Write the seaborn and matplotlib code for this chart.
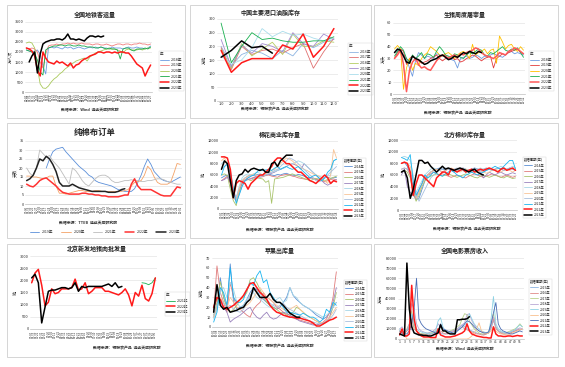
import numpy as np
import pandas as pd
import matplotlib
matplotlib.use("Agg")
import matplotlib.pyplot as plt
from matplotlib.patches import Rectangle
import seaborn as sns

W, H = 565, 367
nan = np.nan

# ---------------- data ----------------
# 1 全国地铁客运量 (万人次)
subway_years = ["2018年", "2019年", "2020年", "2021年", "2022年", "2023年"]
subway_2018 = [2100, 2050, 2000, 2050, 2100, 1900, 1300, 900, 2200, 2250, 2200, 2250, 2200, 2150, 2250, 2200,
               2250, 2150, 2200, 2250, 2200, 2150, 2200, 2250, 2200, 2250, 2200, 2250, 2200, 2200, 2150, 2250,
               2200, 2200, 2200, 2150, 2200, 2250, 2200, 2200, 2250, 2200, 2200, 2150, 2200, 2300]
subway_2019 = [2200, 2150, 2200, 2150, 2000, 1500, 1200, 1900, 2300, 2350, 2350, 2400, 2350, 2400, 2400, 2450,
               2400, 2450, 2400, 2400, 2450, 2400, 2400, 2400, 2350, 2400, 2400, 2350, 2350, 2400, 2350, 2300,
               2350, 2400, 2400, 2350, 2400, 2400, 2350, 2400, 2400, 2450, 2400, 2400, 2350, 2400]
subway_2020 = [2450, 2500, 2450, 2200, 1200, 400, 200, 180, 300, 500, 650, 750, 900, 1000, 1150, 1250,
               1350, 1450, 1550, 1600, 1650, 1700, 1550, 1750, 1850, 1950, 2000, 2050, 2100, 2150, 2150, 2150,
               2150, 2100, 2050, 1950, 2100, 2150, 2100, 2100, 2100, 2150, 2100, 2150, 2200, 2200]
subway_2021 = [2100, 2050, 2000, 1900, 1600, 1000, 850, 2100, 2200, 2250, 2300, 2300, 2350, 2350, 2300, 2350,
               2350, 2300, 2300, 2350, 2300, 2300, 2250, 2250, 2250, 2200, 2200, 2250, 2200, 2150, 2200, 2150,
               2150, 2100, 1650, 2150, 2200, 2200, 2100, 2050, 2150, 2150, 2150, 2200, 2150, 2250]
subway_2022 = [2200, 2150, 2050, 1800, 1100, 800, 2000, 1700, 1500, 1450, 1400, 1550, 1450, 1500, 1400, 1300,
               1450, 1200, 1350, 1400, 1550, 1650, 1700, 1800, 1850, 1900, 2000, 2000, 1950, 2000, 2000, 1950,
               2000, 1950, 2000, 2000, 1950, 1950, 1800, 1600, 1400, 1300, 1200, 800, 1100, 1350]
subway_2023 = [nan, 1500, 1800, 2000, 950, 1900, 2400, 2500, 2550, 2600, 2600, 2650, 2650, 2600, 2700, 2900,
               2650, 2650, 2600, 2650, 2600, 2550, 2700, 2800, 2800, 2750, 2800, 2750, 2800]
subway_labels = list(pd.date_range("2023-01-01", periods=46, freq="8D").strftime("%m-%d"))

# 2 中国主要港口油脂库存 (万吨), monthly
port_years = ["2016年", "2017年", "2018年", "2019年", "2020年", "2021年", "2022年", "2023年"]
port_months = [1.0, 2.0, 3.0, 4.0, 5.0, 6.0, 7.0, 8.0, 9.0, 10.0, 11.0, 12.0]
port_2016 = [200, 130, 170, 185, 175, 155, 185, 165, 210, 195, 215, 225]
port_2017 = [195, 115, 200, 170, 185, 190, 175, 195, 210, 120, 180, 230]
port_2018 = [190, 120, 210, 165, 190, 215, 170, 245, 200, 200, 220, 215]
port_2019 = [225, 125, 205, 175, 210, 200, 180, 250, 210, 200, 245, 225]
port_2020 = [165, 135, 150, 195, 265, 235, 255, 240, 245, 230, 220, 230]
port_2021 = [285, 140, 200, 250, 225, 230, 220, 215, 215, 220, 220, 235]
port_2022 = [185, 105, 140, 155, 155, 155, 205, 190, 245, 160, 200, 265]
port_2023 = [160, 185, 220, 195, 200, 175]

# 3 生猪周度屠宰量 (万头)
hog_years = ["2018年", "2019年", "2020年", "2021年", "2022年", "2023年"]
hog_2018 = [35, 37, 36, 33, 30, 22, 15, 28, 35, 33, 30, 32, 31, 30, 34, 33, 32, 33, 30, 29, 28, 22,
            30, 31, 32, 30, 31, 33, 32, 30, 32, 31, 33, 34, 33, 32, 31, 33, 35, 36, 34, 35, 34, 33]
hog_2019 = [30, 35, 38, 36, 25, 30, 32, 30, 28, 26, 27, 28, 30, 31, 33, 30, 28, 30, 31, 32, 29, 30,
            27, 28, 30, 31, 33, 32, 30, 28, 30, 31, 32, 22, 30, 32, 34, 33, 35, 36, 37, 38, 35, 34]
hog_2020 = [38, 41, 38, 4, 22, 30, 20, 26, 24, 30, 33, 35, 40, 38, 36, 33, 32, 34, 35, 33, 30, 33,
            35, 36, 34, 30, 42, 33, 35, 36, 38, 34, 37, 38, 26, 49, 44, 38, 41, 42, 38, 36, 40, 37]
hog_2021 = [32, 36, 40, 37, 30, 27, 33, 30, 32, 35, 30, 34, 33, 31, 36, 40, 37, 33, 32, 30, 34, 33,
            31, 30, 33, 35, 34, 36, 38, 37, 33, 32, 35, 34, 36, 38, 40, 37, 36, 38, 37, 39, 35, 31]
hog_2022 = [30, 33, 37, 25, 2, 20, 27, 30, 25, 22, 23, 21, 20, 24, 28, 31, 33, 32, 30, 32, 33, 31,
            34, 33, 35, 36, 37, 39, 38, 35, 33, 32, 31, 30, 32, 35, 34, 33, 36, 37, 39, 38, 36, 34]
hog_2023 = [35, 38, 37, 32, 27, 26, 32, 30, 29, 27, 25, 26, 28, 29, 30, 32, 33, 31, 29, 30, 32, 31,
            33, 35, 34, 36, 35, 34, 36, 35]
hog_labels = list(pd.date_range("2023-01-02", periods=44, freq="8D").strftime("%m-%d"))

# 4 纯棉布订单 (天)
cloth_years = ["2019年", "2020年", "2021年", "2022年", "2023年"]
cloth_2019 = [nan, nan, nan, nan, nan, nan, 20, 25, 29, 30.5, 31, 31.5, 29, 27, 25, 23, 21, 19.5, 18, 16,
              15, 13, 12, 11.5, 11, 10.5, 10, 9, 8, 7.5, 7, 7, 7, 8.5, 12, 16, 21, 25, 22, 18,
              16, 14, 13, 12.5, 12, 13, 14, 15]
cloth_2020 = [15.5, 15.5, 15, 15, 14.5, 14, 14.5, 15.5, 15.5, 10, 6, 6, 5.5, 6, 6.5, 7, 7.5, 7.5, 7, 7,
              7, 7.5, 7.5, 7, 7, 7, 7, 7, 7, 7, 7.5, 8, 10, 12, 12.5, 13, 16, 21, 19, 15,
              12, 11, 11, 11, 12, 17, 22.5, 22]
cloth_2021 = [20, 17, 15.5, 20, 30, 28, 26, 27, 24, 22, 20, 17, 14, 11, 20, 18.5, 16, 13, 11, 10,
              12, 14, 15.5, 16, 16, 15, 13, 12, 12, 12.5, 13, 13, 13.5, 13, 13, 12.5, 12.5, 13, 13, 13.5,
              14, 14, 13.5, 12.5, 12, 11.5, 11, 11]
cloth_2022 = [11, 10, 9.5, 11, 13, 14, 14.5, 13, 11.5, 10, 8, 6.5, 6, 5.5, 5.5, 5.5, 5.5, 6, 6, 5.5,
              5.5, 5, 5, 4.5, 4.5, 4, 4, 4, 4, 4.5, 5, 5, 11, 14, 10, 8, 8, 8, 8, 7,
              6, 5, 4.5, 4.5, 4.5, 7, 9.5, 9]
cloth_2023 = [13, 14, 16, 20, 25, 24, 26.5, 25, 22, 18, 12, 10, 10, 10, 11, 10, 9, 8.5, 8, 7.5,
              7, 7, 7, 7, 7, 6.5, 6.5, 6.5, 7, 8, 8.5]
cloth_labels = list(pd.date_range("2023-01-06", periods=48, freq="7D").strftime("%m-%d"))

# 5 棉花商业库存 / 6 北方棉纱库存 / 8 苹果出库量 share year list
multi_years = ["2014年", "2015年", "2016年", "2017年", "2018年", "2019年", "2020年", "2021年", "2022年", "2023年"]

stock_2014 = [5500, 5800, 6000, 5000, 2500, 1800, 3500, 5000, 5500, 5800, 6000, 5900, 6100, 6000, 5800, 6000, 6200, 6000, 5900, 6100,
              6000, 6200, 6300, 6100, 6000, 5900, 6100, 6000, 5800, 5500, 5600, 5400, 5200, 5000, 5300, 5500, 5600, 5400, 5500, 5600]
stock_2015 = [5000, 5400, 5800, 4500, 2000, 1500, 3000, 4800, 5200, 5500, 5400, 5600, 5800, 5600, 5700, 5900, 6000, 5800, 5700, 5600,
              5900, 6000, 6100, 6000, 5800, 5700, 5500, 5400, 5300, 5200, 5400, 5500, 5300, 5100, 5000, 4800, 5000, 5200, 5300, 5100]
stock_2016 = [6000, 6200, 5900, 3500, 1500, 600, 3000, 4500, 5000, 5200, 5000, 5300, 5500, 5400, 5300, 4700, 5000, 1000, 5300, 5400,
              5500, 5600, 5800, 6000, 6200, 6000, 5800, 5600, 5400, 5200, 5000, 5200, 5400, 5300, 5100, 5000, 5200, 5400, 5600, 5800]
stock_2017 = [5000, 5200, 5600, 4800, 3000, 2000, 3500, 4500, 5000, 5200, 5300, 5500, 5700, 5800, 6000, 6200, 6100, 6300, 6500, 6800,
              7000, 7200, 7500, 7800, 8000, 7800, 7500, 7000, 8000, 7500, 7000, 6500, 6000, 5500, 5000, 4500, 4200, 4500, 5000, 5200]
stock_2018 = [8000, 8500, 8200, 6000, 3000, 2000, 4000, 5500, 6000, 6200, 6000, 6200, 6500, 6300, 6000, 6200, 6400, 6500, 6600, 6800,
              7000, 7200, 7500, 7800, 8000, 8200, 8500, 8300, 8000, 7500, 7000, 6500, 6000, 5800, 5600, 5500, 5800, 6000, 8500, 8800]
stock_2019 = [8500, 9000, 8000, 5000, 2500, 1500, 3500, 5000, 5500, 5800, 6000, 6200, 6000, 5800, 6000, 6200, 6500, 6800, 7000, 7500,
              8000, 8500, 9000, 8800, 8500, 8000, 7500, 7200, 7000, 6800, 6500, 6200, 6000, 5800, 5500, 5000, 4500, 6000, 10500, 9000]
stock_2020 = [7000, 7500, 7800, 7000, 4000, 1500, 2500, 4000, 5000, 5500, 5800, 6000, 5800, 5600, 5800, 6000, 6200, 6500, 6800, 7000,
              7500, 8000, 8500, 9000, 8800, 8500, 8000, 7500, 7000, 6500, 6000, 5500, 5000, 4800, 5000, 5500, 6000, 6500, 7000, 7500]
stock_2021 = [6000, 7500, 8000, 6500, 3500, 1000, 2500, 4000, 5000, 5500, 5800, 6000, 6500, 7000, 6800, 6900, 7000, 6800, 7200, 7500,
              7000, 7300, 7500, 7200, 7000, 7200, 7500, 7000, 6500, 6000, 5500, 5800, 6000, 5500, 5000, 5500, 6500, 7000, 8500, 8800]
stock_2022 = [9200, 9200, 9000, 7000, 2000, 4500, 5000, 4800, 4500, 3500, 4500, 5000, 5500, 6000, 6000, 6500, 7000, 7500, 8500, 9000,
              9000, 8500, 8000, 8000, 7500, 7000, 6500, 6500, 6000, 5500, 5000, 4800, 4500, 5000, 5500, 6000, 5500, 4500, 5000, 4800]
stock_2023 = [7000, 8500, 8000, 5000, 2000, 5000, 6000, 6200, 7000, 6500, 7000, 7200, 7000, 6800, 7000, 6500, 6500, 8000, 8300, 7500,
              8500, 9000, 9500, 9500, 9500]
stock_labels = list(pd.date_range("2023-01-01", periods=40, freq="9D").strftime("%m-%d"))

yarn_2014 = [8000, 8200, 7500, 6000, 4000, 1800, 2000, 3500, 5000, 6000, 6500, 6800, 7000, 7200, 7000, 6800, 7000, 6800, 6500, 6800,
             7000, 6800, 6500, 6800, 7000, 7200, 7000, 6800, 6500, 6800, 7000, 6800, 7000, 7200, 7000, 6800, 7000, 7200, 7000, 6800]
yarn_2015 = [7000, 7200, 7000, 6000, 3000, 2000, 3000, 4500, 5500, 6000, 6200, 6500, 6300, 6000, 6200, 6000, 5800, 5600, 5800, 6000,
             5800, 5600, 5500, 5800, 6000, 6200, 6000, 5800, 5600, 5800, 6000, 6200, 6000, 5800, 5600, 5800, 6000, 5800, 5600, 5800]
yarn_2016 = [6500, 6800, 6500, 5500, 3000, 1500, 2500, 4000, 5000, 5500, 5800, 6000, 6200, 6000, 5800, 6000, 6200, 6000, 5800, 5600,
             5800, 6000, 6200, 6000, 5800, 5600, 5500, 5800, 6000, 5800, 5600, 5800, 6000, 5800, 5600, 5500, 5800, 5600, 5400, 5500]
yarn_2017 = [6000, 7000, 4000, 3000, 2500, 2000, 3500, 4500, 5500, 6000, 6500, 6800, 7000, 6800, 6500, 6800, 7000, 6800, 6500, 6800,
             7000, 7200, 7000, 6800, 6500, 6800, 7000, 6500, 5500, 6000, 6500, 6200, 6000, 6300, 6500, 6200, 6000, 6200, 6400, 6200]
yarn_2018 = [9000, 9200, 9000, 8500, 6000, 3000, 4000, 5000, 6000, 6500, 7000, 7200, 7000, 6800, 7000, 7200, 7000, 6800, 6500, 6800,
             7000, 7200, 7000, 6800, 6500, 6800, 7000, 7200, 7000, 7200, 7000, 6800, 7000, 7200, 7500, 7200, 7000, 7200, 7500, 7200]
yarn_2019 = [8000, 8200, 8000, 7500, 5000, 2000, 3000, 4500, 5500, 6000, 6500, 6800, 7000, 6800, 6500, 6800, 7000, 7200, 7000, 6800,
             6500, 6800, 7000, 6800, 6500, 6300, 6500, 6800, 6500, 6300, 6500, 6800, 7000, 6800, 6500, 6800, 7000, 6800, 6500, 6800]
yarn_2020 = [7000, 7200, 7000, 6500, 5000, 3000, 1500, 2500, 3500, 4500, 5500, 6000, 6500, 6800, 7000, 7200, 7000, 6800, 7000, 7200,
             7000, 6800, 6500, 6800, 7000, 7200, 7000, 6800, 7000, 7200, 7000, 6800, 7000, 7200, 7000, 6800, 7000, 7200, 7000, 6800]
yarn_2021 = [9000, 8800, 8500, 9500, 5000, 2500, 3500, 4500, 6000, 5500, 6000, 6500, 6200, 6000, 5800, 6200, 6500, 6800, 6500, 6000,
             5800, 5500, 6000, 6200, 6500, 6200, 6000, 6300, 6500, 6800, 7000, 7200, 7500, 7200, 7000, 7500, 8000, 8500, 8500, 7000]
yarn_2022 = [8000, 8200, 8000, 6500, 2500, 4500, 6000, 6000, 5500, 5000, 4500, 4000, 5500, 6000, 6500, 6500, 6000, 7000, 6800, 6500,
             6800, 7000, 6500, 6800, 7000, 6500, 6800, 7000, 6800, 7000, 7200, 7000, 6800, 6500, 7000, 7200, 6800, 7000, 7200, 6800]
yarn_2023 = [6500, 6800, 5500, 2000, 3500, 6000, 8500, 8500, 8000, 8200, 7500, 7000, 6500, 7000, 7500, 7000, 7200, 7000, 6800, 7000,
             7200, 7000, 6800, 6500, 6800, 7000, 6500, 6200, 6000]
yarn_labels = list(pd.date_range("2023-01-03", periods=40, freq="9D").strftime("%m-%d"))

# 7 北京新发地猪肉批发量 (吨)
bj_years = ["2021年", "2022年", "2023年"]
bj_2021 = [nan] * 33 + [1900, 1880, 1820, 1900, 2100]
bj_2022 = [1900, 2300, 2450, 1800, 950, 1100, 1650, 1450, 1500, 1650, 1650, 1650, 1700, 2050, 1600, 1650, 1900, 1450, 1550,
           1700, 1700, 1700, 1550, 1550, 1500, 1450, 1400, 1500, 1650, 1400, 950, 1500, 1350, 1800, 1250, 1150, 1450, 2100]
bj_2023 = [2100, 2250, 1900, 250, 900, 1550, 1600, 1600, 1650, 1700, 1700, 1650, 1700, 1900, 1550, 1750, 1700, 1750, 1750,
           1750, 1750, 1750, 1800, 1850, 1750, 1900, 1700, 1750]
bj_labels = list(pd.date_range("2023-01-01", periods=38, freq="10D").strftime("%m-%d"))

# 8 苹果出库量 (万吨)
apple_2014 = [10, 20, 50, 30, 20, 64, 25, 18, 20, 22, 28, 35, 40, 38, 30, 28, 25, 22, 20, 18, 20, 25, 30, 40, 32, 28, 25, 22, 20, 18, 15, 12, 10, 8, 10, 15, 20, 25]
apple_2015 = [15, 62, 35, 25, 15, 45, 30, 20, 18, 15, 12, 10, 18, 22, 25, 35, 30, 28, 25, 20, 18, 15, 12, 10, 9, 8, 7, 6, 5, 4, 3, 2, 3, 5, 8, 15, 30, 56]
apple_2016 = [12, 25, 46, 30, 20, 15, 18, 22, 28, 30, 35, 48, 50, 45, 38, 30, 25, 22, 20, 18, 15, 14, 13, 12, 15, 20, 18, 15, 12, 10, 8, 6, 4, 3, 5, 10, 20, 35]
apple_2017 = [18, 30, 25, 20, 15, 5, 8, 10, 12, 15, 18, 20, 14, 10, 8, 12, 15, 10, 8, 9, 12, 15, 14, 12, 10, 8, 6, 5, 4, 3, 2, 2, 3, 4, 6, 10, 25, 40]
apple_2018 = [8, 18, 35, 40, 30, 45, 38, 25, 20, 22, 28, 32, 35, 30, 28, 25, 22, 20, 22, 28, 30, 25, 27, 40, 32, 30, 25, 22, 20, 18, 16, 14, 12, 10, 12, 15, 20, 25]
apple_2019 = [10, 20, 30, 25, 20, 30, 25, 20, 18, 20, 22, 25, 30, 35, 40, 35, 30, 28, 25, 22, 20, 18, 16, 18, 20, 22, 18, 15, 12, 10, 8, 6, 5, 4, 6, 10, 15, 20]
apple_2020 = [12, 22, 28, 24, 20, 22, 18, 16, 15, 18, 25, 32, 36, 40, 33, 30, 28, 24, 22, 20, 22, 24, 20, 18, 16, 14, 12, 10, 8, 6, 5, 4, 3, 4, 6, 8, 12, 18]
apple_2021 = [5, 15, 40, 35, 22, 60, 30, 25, 25, 28, 38, 45, 42, 52, 57, 45, 48, 35, 30, 25, 25, 20, 15, 15, 14, 13, 12, 14, 12, 10, 10, 8, 5, 8, 18, 15, 25, 22]
apple_2022 = [20, 30, 28, 20, 18, 20, 22, 25, 28, 32, 38, 44, 45, 40, 35, 32, 28, 22, 18, 15, 14, 12, 11, 10, 10, 9, 9, 8, 7, 6, 4, 1, 1, 3, 5, 7, 8, 10]
apple_2023 = [15, 43, 22, 18, 20, 15, 16, 17, 19, 20, 25, 28, 40, 35, 30, 30, 30, 34, 28, 25, 25, 22, 18, 14, 12, 10, 10]
apple_labels = list(pd.date_range("2022-10-01", periods=38, freq="7D").strftime("%m-%d"))

# 9 全国电影票房收入 (万元), weekly
film_years = ["2015年", "2016年", "2017年", "2018年", "2019年", "2020年", "2021年", "2022年", "2023年"]
film_weeks = list(range(1, 53))
film_2015 = [6000, 5000, 6000, 8000, 10000, 9000, 15000, 8000, 6000, 5000, 4000, 4000, 5000, 5000, 6000, 7000, 8000, 6000, 5000, 5000,
             6000, 7000, 8000, 9000, 10000, 12000, 14000, 12000, 10000, 9000, 8000, 7000, 6000, 5000, 5000, 4000, 5000, 6000, 10000, 18000,
             12000, 8000, 6000, 5000, 5000, 5000, 6000, 7000, 8000, 9000, 10000, 9000]
film_2016 = [7000, 6000, 5000, 8000, 12000, 20000, 10000, 8000, 6000, 5000, 5000, 4000, 4000, 5000, 6000, 5000, 6000, 8000, 6000, 5000,
             5000, 6000, 7000, 8000, 9000, 10000, 12000, 10000, 9000, 8000, 7000, 6000, 5000, 5000, 4000, 4000, 5000, 6000, 12000, 20000,
             10000, 8000, 6000, 5000, 5000, 6000, 6000, 7000, 8000, 9000, 9000, 10000]
film_2017 = [8000, 7000, 6000, 10000, 15000, 28000, 12000, 8000, 6000, 5000, 5000, 5000, 6000, 6000, 7000, 8000, 10000, 12000, 8000, 7000,
             7000, 8000, 9000, 10000, 12000, 14000, 20000, 25000, 24000, 18000, 14000, 10000, 8000, 6000, 5000, 5000, 6000, 7000, 15000, 25000,
             12000, 8000, 7000, 6000, 6000, 7000, 8000, 9000, 10000, 12000, 15000, 12000]
film_2018 = [10000, 12000, 8000, 9000, 15000, 35000, 30000, 15000, 10000, 8000, 7000, 6000, 6000, 7000, 8000, 10000, 15000, 12000, 9000, 8000,
             7000, 7000, 8000, 9000, 10000, 12000, 14000, 16000, 24000, 25000, 18000, 14000, 10000, 8000, 7000, 6000, 6000, 7000, 15000, 22000,
             12000, 8000, 7000, 6000, 6000, 6000, 7000, 8000, 9000, 10000, 11000, 10000]
film_2019 = [10000, 8000, 7000, 9000, 12000, 25000, 15000, 10000, 8000, 7000, 6000, 6000, 5000, 5000, 6000, 8000, 18000, 21000, 12000, 8000,
             7000, 6000, 6000, 7000, 8000, 10000, 12000, 14000, 16000, 25000, 20000, 15000, 12000, 10000, 8000, 7000, 6000, 6000, 20000, 42000,
             15000, 10000, 8000, 7000, 6000, 6000, 7000, 8000, 9000, 12000, 14000, 12000]
film_2020 = [5000, 5000, 4000, 0, 0, 0, 0, 0, 0, 0, 0, 0, 0, 0, 0, 0, 0, 0, 0, 0, 0, 0, 0, 0, 0, 0, 0, 0, 0,
             1000, 3000, 6000, 10000, 16000, 8000, 6000, 5000, 6000, 8000, 12000, 8000, 6000, 5000, 5000, 4000, 4000, 5000, 6000, 7000,
             8000, 9000, 10000]
film_2021 = [8000, 6000, 5000, 5000, 8000, 15000, 30000, 60000, 20000, 15000, 12000, 10000, 9000, 8000, 7000, 6000, 8000, 15000, 10000, 9000,
             8000, 7000, 6000, 5000, 8000, 10000, 12000, 15000, 18000, 17000, 15000, 12000, 10000, 8000, 7000, 6000, 6000, 7000, 15000, 26000,
             36000, 15000, 10000, 8000, 7000, 6000, 5000, 5000, 6000, 7000, 8000, 7000]
film_2022 = [4000, 10000, 3000, 3000, 5000, 53000, 20000, 8000, 5000, 3000, 2000, 2000, 2000, 1500, 1500, 1500, 10000, 4000, 3000, 2000,
             2000, 2000, 2500, 3000, 4000, 5000, 6000, 8000, 15000, 8000, 5000, 4000, 3000, 2500, 2000, 1500, 1500, 1000, 1000, 12000,
             5000, 3000, 3000, 2500, 2500, 3000, 3000, 2500, 3000, 3500, 3000, 3000]
film_2023 = [5000, 4000, 3000, 75000, 30000, 12000, 6000, 5000, 4000, 4000, 3500, 3500, 3000, 3000, 4000, 5000, 6000, 14000, 8000, 8000,
             6000, 5000, 5000, 5000, 19000, 19000, 19500, 19500, 20000, 22000]

# ---------------- styling ----------------
MULTI_COLORS = {
    "2014年": "#5B8FD5", "2015年": "#E07B7B", "2016年": "#A9C46C", "2017年": "#9A82BD",
    "2018年": "#A6D6E6", "2019年": "#F8C496", "2020年": "#A8BFDD", "2021年": "#19B5F0",
    "2022年": "#FF1A1A", "2023年": "#000000",
}
FILM_COLORS = {
    "2015年": "#8DB4E2", "2016年": "#E08A88", "2017年": "#B9D28C", "2018年": "#B9A8D4",
    "2019年": "#8ED2E4", "2020年": "#F9C08E", "2021年": "#4A6DB5", "2022年": "#FF1A1A", "2023年": "#000000",
}
SUBWAY_COLORS = {"2018年": "#6E9BE0", "2019年": "#F07C7C", "2020年": "#A9C95B", "2021年": "#17A948",
                 "2022年": "#FF1A1A", "2023年": "#000000"}
PORT_COLORS = {"2016年": "#8DB4E2", "2017年": "#E07070", "2018年": "#B5CF63", "2019年": "#A48CCF",
               "2020年": "#A9DDEB", "2021年": "#19B050", "2022年": "#FF1A1A", "2023年": "#000000"}
HOG_COLORS = {"2018年": "#6E9BE0", "2019年": "#E33B3B", "2020年": "#FFC000", "2021年": "#19B050",
              "2022年": "#FF5A5A", "2023年": "#000000"}
CLOTH_COLORS = {"2019年": "#5B8FD9", "2020年": "#F4A266", "2021年": "#BDBDBD", "2022年": "#FF3333", "2023年": "#222222"}
BJ_COLORS = {"2021年": "#19B050", "2022年": "#FF1A1A", "2023年": "#000000"}

SOURCE_WIND = "数据来源：Wind  远达天成研究院"
SOURCE_MYS = "数据来源：钢联农产品  远达天成研究院"


def fx(px):
    return px / W


def fy(py):
    return 1 - py / H


def px_axes(fig, l, t, r, b):
    return fig.add_axes([fx(l), fy(b), (r - l) / W, (b - t) / H])


def panel_box(fig, l, t, r, b):
    fig.patches.append(Rectangle((fx(l), fy(b)), (r - l) / W, (b - t) / H, transform=fig.transFigure,
                                 fill=False, edgecolor="#cfcfcf", linewidth=0.6))


def draw_lines(ax, years, series, colors, xs=None):
    for year, vals in zip(years, series):
        x = np.arange(len(vals)) if xs is None else np.array(xs[:len(vals)], dtype=float)
        df = pd.DataFrame({"x": x, "y": np.array(vals, dtype=float)}).dropna()
        lw = 1.1 if year in ("2022年", "2023年") else 0.6
        sns.lineplot(data=df, x="x", y="y", ax=ax, color=colors[year], linewidth=lw, label=year,
                     legend=False, estimator=None, sort=False)


def style_axes(ax, ylim, ystep, ylabel, ytick_fmt="{:.0f}"):
    ax.set_ylim(*ylim)
    ticks = np.arange(ylim[0], ylim[1] + ystep / 2, ystep)
    ax.set_yticks(ticks)
    ax.set_yticklabels([ytick_fmt.format(t) for t in ticks], fontsize=2.8)
    ax.grid(axis="y", color="#dedede", linewidth=0.4)
    ax.grid(axis="x", visible=False)
    for side in ("top", "right", "left"):
        ax.spines[side].set_visible(False)
    ax.spines["bottom"].set_color("#bfbfbf")
    ax.spines["bottom"].set_linewidth(0.5)
    ax.tick_params(length=0, pad=1)
    ax.set_xlabel("")
    ax.set_ylabel(ylabel, fontsize=3, labelpad=1.5)
    ax.set_facecolor("white")


def cat_xticks(ax, labels, rot=90, size=2.0):
    ax.set_xticks(np.arange(len(labels)))
    ax.set_xticklabels(labels, rotation=rot, fontsize=size)
    ax.set_xlim(-0.5, len(labels) - 0.5)


def side_legend(ax, fig, x, y, title, size=2.6):
    handles, labels = ax.get_legend_handles_labels()
    leg = ax.legend(handles, labels, loc="upper left", bbox_to_anchor=(fx(x), fy(y)),
                    bbox_transform=fig.transFigure, fontsize=size, title=title, title_fontsize=size,
                    frameon=True, handlelength=2.4, labelspacing=0.45, borderpad=0.4, handletextpad=0.6)
    leg.get_frame().set_edgecolor("#c8c8c8")
    leg.get_frame().set_linewidth(0.3)
    leg.get_frame().set_boxstyle("square", pad=0.0)
    leg._legend_box.align = "left"
    return leg


def title_text(fig, x, y, text, size=4.3):
    fig.text(fx(x), fy(y), text, ha="center", va="center", fontsize=size, fontweight="bold", color="#222222")


def source_text(fig, x, y, text):
    fig.text(fx(x), fy(y), text, ha="center", va="center", fontsize=2.8, fontweight="bold", color="#333333")


def main():
    sns.set_style("white")
    plt.rcParams["font.family"] = ["Noto Sans CJK SC", "DejaVu Sans"]
    plt.rcParams["axes.unicode_minus"] = False

    fig = plt.figure(figsize=(W / 100, H / 100), dpi=100)
    fig.patch.set_facecolor("white")

    cols = [(7, 185), (190, 371), (374, 558)]
    rows = [(5, 118), (123, 238), (244, 357)]
    for (t, b) in rows:
        for (l, r) in cols:
            panel_box(fig, l, t, r, b)

    # 1 subway
    ax = px_axes(fig, 25, 22, 152, 92)
    draw_lines(ax, subway_years, [subway_2018, subway_2019, subway_2020, subway_2021, subway_2022, subway_2023], SUBWAY_COLORS)
    style_axes(ax, (0, 3500), 500, "万人次")
    cat_xticks(ax, subway_labels)
    side_legend(ax, fig, 157, 49, "年")
    title_text(fig, 95, 14, "全国地铁客运量")
    source_text(fig, 90, 110, SOURCE_WIND)

    # 2 port oils stock
    ax = px_axes(fig, 217, 19, 338, 101)
    draw_lines(ax, port_years, [port_2016, port_2017, port_2018, port_2019, port_2020, port_2021, port_2022, port_2023],
               PORT_COLORS, xs=port_months)
    style_axes(ax, (0, 300), 50, "万吨")
    ax.set_xticks(port_months)
    ax.set_xticklabels([f"{m:.1f}" for m in port_months], fontsize=2.8)
    ax.set_xlim(0.6, 12.4)
    side_legend(ax, fig, 346, 41, "年")
    title_text(fig, 270, 12, "中国主要港口油脂库存")
    source_text(fig, 275, 109, SOURCE_MYS)

    # 3 hog slaughter
    ax = px_axes(fig, 393, 23, 525, 94)
    draw_lines(ax, hog_years, [hog_2018, hog_2019, hog_2020, hog_2021, hog_2022, hog_2023], HOG_COLORS)
    style_axes(ax, (0, 60), 10, "万头")
    cat_xticks(ax, hog_labels)
    side_legend(ax, fig, 527, 49, "年")
    title_text(fig, 465, 15, "生猪周度屠宰量")
    source_text(fig, 458, 113, SOURCE_MYS)

    # 4 cotton cloth orders
    ax = px_axes(fig, 25, 141, 182, 204)
    draw_lines(ax, cloth_years, [cloth_2019, cloth_2020, cloth_2021, cloth_2022, cloth_2023], CLOTH_COLORS)
    style_axes(ax, (0, 35), 5, "天数")
    cat_xticks(ax, cloth_labels)
    handles, labels = ax.get_legend_handles_labels()
    ax.legend(handles, labels, loc="center", bbox_to_anchor=(fx(105), fy(232)), bbox_transform=fig.transFigure,
              ncol=5, fontsize=2.6, frameon=False, handlelength=2.6, columnspacing=2.2, handletextpad=0.8)
    title_text(fig, 95, 133, "纯棉布订单", size=6.0)
    source_text(fig, 88, 223, "数据来源：TTEB  远达天成研究院")

    # 5 cotton commercial stock
    ax = px_axes(fig, 220, 141, 338, 209)
    draw_lines(ax, multi_years, [stock_2014, stock_2015, stock_2016, stock_2017, stock_2018, stock_2019,
                                 stock_2020, stock_2021, stock_2022, stock_2023], MULTI_COLORS)
    style_axes(ax, (0, 12000), 2000, "吨")
    cat_xticks(ax, stock_labels)
    side_legend(ax, fig, 341, 156, "数据周期(年)", size=2.4)
    title_text(fig, 280, 134, "棉花商业库存量")
    source_text(fig, 280, 230, SOURCE_MYS)

    # 6 northern cotton yarn stock
    ax = px_axes(fig, 400, 140, 517, 210)
    draw_lines(ax, multi_years, [yarn_2014, yarn_2015, yarn_2016, yarn_2017, yarn_2018, yarn_2019,
                                 yarn_2020, yarn_2021, yarn_2022, yarn_2023], MULTI_COLORS)
    style_axes(ax, (0, 12000), 2000, "吨")
    cat_xticks(ax, yarn_labels)
    side_legend(ax, fig, 521, 155, "数据周期(年)", size=2.4)
    title_text(fig, 465, 134, "北方棉纱库存量")
    source_text(fig, 467, 229, SOURCE_MYS)

    # 7 Beijing Xinfadi pork
    ax = px_axes(fig, 30, 256, 157, 329)
    draw_lines(ax, bj_years, [bj_2021, bj_2022, bj_2023], BJ_COLORS)
    style_axes(ax, (0, 3000), 500, "吨")
    cat_xticks(ax, bj_labels)
    side_legend(ax, fig, 163, 290, "年")
    title_text(fig, 97, 249, "北京新发地猪肉批发量")
    source_text(fig, 127, 348, SOURCE_MYS)

    # 8 apple shipments
    ax = px_axes(fig, 212, 258, 338, 327)
    draw_lines(ax, multi_years, [apple_2014, apple_2015, apple_2016, apple_2017, apple_2018, apple_2019,
                                 apple_2020, apple_2021, apple_2022, apple_2023], MULTI_COLORS)
    style_axes(ax, (0, 70), 10, "万吨")
    cat_xticks(ax, apple_labels)
    side_legend(ax, fig, 342, 278, "数据周期(年)", size=2.4)
    title_text(fig, 280, 250, "苹果出库量")
    source_text(fig, 280, 346, SOURCE_MYS)

    # 9 box office
    ax = px_axes(fig, 398, 258, 524, 339)
    draw_lines(ax, film_years, [film_2015, film_2016, film_2017, film_2018, film_2019, film_2020,
                                film_2021, film_2022, film_2023], FILM_COLORS, xs=film_weeks)
    style_axes(ax, (0, 80000), 10000, "万元")
    ax.set_xticks(film_weeks[::2])
    ax.set_xticklabels([str(w) for w in film_weeks[::2]], fontsize=2.4)
    ax.set_xlim(0.3, 52.7)
    side_legend(ax, fig, 527, 277, "数据周期(年)", size=2.4)
    title_text(fig, 465, 251, "全国电影票房收入")
    source_text(fig, 465, 349, "数据来源：Wind  远达天成研究院")

    fig.savefig("out.png", dpi=100)
    plt.close(fig)


if __name__ == "__main__":
    main()
